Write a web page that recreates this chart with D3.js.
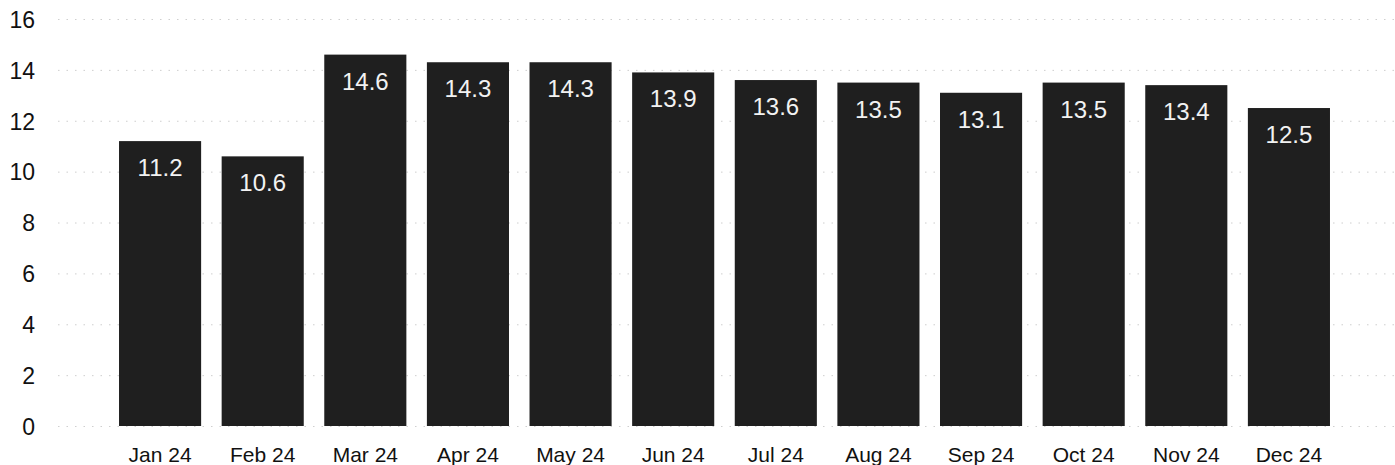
<!DOCTYPE html>
<html>
<head>
<meta charset="utf-8">
<script src="https://cdn.jsdelivr.net/npm/d3@7"></script>
<style>
  html, body { margin: 0; padding: 0; background: #fff; }
  svg { display: block; }
</style>
</head>
<body>
<svg id="chart" width="1395" height="465"></svg>
<script>
// Monthly values, 2024
const months = ["Jan 24", "Feb 24", "Mar 24", "Apr 24", "May 24", "Jun 24",
                "Jul 24", "Aug 24", "Sep 24", "Oct 24", "Nov 24", "Dec 24"];
const values = [11.2, 10.6, 14.6, 14.3, 14.3, 13.9, 13.6, 13.5, 13.1, 13.5, 13.4, 12.5];
const yTicks = [0, 2, 4, 6, 8, 10, 12, 14, 16];

const svg = d3.select("#chart");
const W = 1395, H = 465;
const font = "'Liberation Sans', Arial, Helvetica, sans-serif";

const x = d3.scaleBand()
  .domain(months)
  .range([98.5, 1350.5])
  .paddingInner(0.2)
  .paddingOuter(0.2);

const y = d3.scaleLinear()
  .domain([0, 16])
  .range([426, 19]);

// faint dotted horizontal gridlines
svg.append("g")
  .selectAll("line")
  .data(yTicks)
  .join("line")
  .attr("x1", 58)
  .attr("x2", W)
  .attr("y1", d => y(d) + 0.5)
  .attr("y2", d => y(d) + 0.5)
  .attr("stroke", "#b0b0b0")
  .attr("stroke-width", 1)
  .attr("stroke-dasharray", "1.5,7")
  .attr("opacity", 0.6);

// y axis labels
const yAxis = d3.axisLeft(y).tickValues(yTicks).tickSize(0).tickPadding(0);
svg.append("g")
  .attr("transform", "translate(35,0)")
  .call(yAxis)
  .call(g => g.select(".domain").remove())
  .selectAll("text")
  .attr("font-family", font)
  .attr("font-size", 23)
  .attr("fill", "#111")
  .attr("dy", "0.36em");

// bars
svg.append("g")
  .selectAll("rect")
  .data(values)
  .join("rect")
  .attr("x", (d, i) => x(months[i]))
  .attr("width", x.bandwidth())
  .attr("y", d => y(d))
  .attr("height", d => y(0) - y(d))
  .attr("fill", "#1f1f1f");

// value labels inside the bars
svg.append("g")
  .selectAll("text")
  .data(values)
  .join("text")
  .attr("x", (d, i) => x(months[i]) + x.bandwidth() / 2)
  .attr("y", d => y(d) + 35)
  .attr("text-anchor", "middle")
  .attr("font-family", font)
  .attr("font-size", 24)
  .attr("fill", "#f2f2f2")
  .text(d => d.toFixed(1));

// x axis labels
const xAxis = d3.axisBottom(x).tickSize(0).tickPadding(0);
svg.append("g")
  .attr("transform", "translate(0,447)")
  .call(xAxis)
  .call(g => g.select(".domain").remove())
  .selectAll("text")
  .attr("font-family", font)
  .attr("font-size", 21)
  .attr("fill", "#111")
  .attr("dy", "0.71em");
</script>
</body>
</html>
